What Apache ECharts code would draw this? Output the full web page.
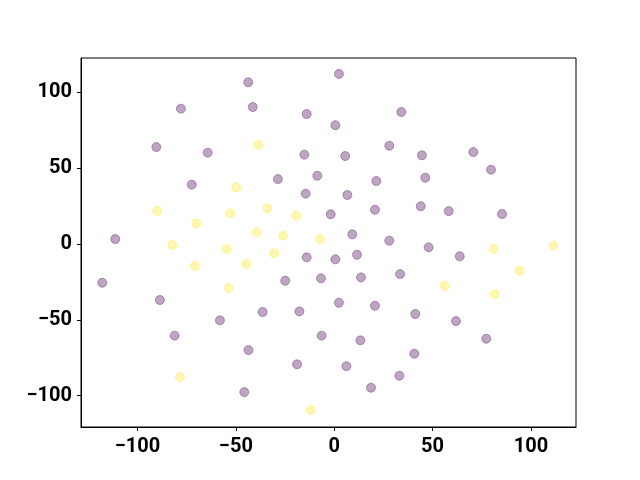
<!DOCTYPE html>
<html>
<head>
<meta charset="utf-8">
<script src="https://cdn.jsdelivr.net/npm/echarts@6/dist/echarts.min.js"></script>
<style>
  html, body { margin: 0; padding: 0; background: #fff; }
  #chart { width: 640px; height: 480px; }
</style>
</head>
<body>
<div id="chart"></div>
<script>
// class 0 (dark purple) points, [x, y]
const purplePoints = [
  [-43.7, 106.6], [2.4, 112.1], [-77.9, 89.2], [-41.4, 90.3], [-14.0, 85.7],
  [34.1, 87.0], [0.6, 78.3], [-90.4, 63.9], [-64.3, 60.2], [-15.2, 58.9],
  [5.6, 58.0], [28.0, 64.8], [44.6, 58.5], [70.7, 60.6], [79.7, 49.0],
  [46.3, 43.7], [-28.6, 42.8], [-8.6, 45.0], [-14.5, 33.2], [6.7, 32.3],
  [21.4, 41.5], [-72.4, 39.1], [-1.8, 19.6], [20.7, 22.6], [44.0, 24.9],
  [58.2, 21.7], [85.3, 19.8], [9.2, 6.4], [28.0, 2.2], [-111.3, 3.3],
  [-117.9, -25.5], [-14.0, -8.8], [0.6, -10.1], [11.6, -7.1], [48.0, -2.2],
  [63.8, -8.1], [-24.9, -24.2], [-6.7, -22.6], [13.6, -22.0], [33.5, -19.8],
  [-88.6, -36.9], [-17.7, -44.4], [-36.4, -44.8], [2.4, -38.7], [20.7, -40.7],
  [-58.1, -50.3], [41.2, -46.1], [61.9, -50.8], [-81.1, -60.4], [-6.4, -60.4],
  [13.3, -63.5], [77.3, -62.4], [-43.6, -69.9], [40.7, -72.3], [-18.9, -79.3],
  [6.2, -80.5], [-45.7, -97.6], [18.7, -94.7], [33.1, -86.8]
];

// class 1 (yellow) points, [x, y]
const yellowPoints = [
  [-38.6, 65.3], [-49.8, 37.4], [-89.9, 21.8], [-52.8, 20.2], [-34.0, 23.5],
  [-19.3, 18.7], [-70.1, 13.6], [-39.4, 7.7], [-26.0, 5.5], [-7.2, 3.3],
  [-82.3, -0.7], [-54.7, -3.3], [-30.5, -6.1], [-44.8, -13.2], [-70.8, -14.5],
  [-53.6, -29.0], [-78.4, -87.7], [-11.9, -109.4], [81.1, -3.3], [111.4, -1.1],
  [94.1, -17.6], [56.2, -27.5], [81.7, -33.2]
];

const xTicks = [-100, -50, 0, 50, 100];
const yTicks = [-100, -50, 0, 50, 100];

// matplotlib-style minus sign
const fmt = v => String(v).replace('-', '\u2212');

const labelStyle = {
  fontFamily: 'Roboto',
  fontWeight: 'bold',
  fontSize: 20,
  color: '#000',
  formatter: fmt
};

const chart = echarts.init(document.getElementById('chart'), null, { renderer: 'canvas' });

chart.setOption({
  animation: false,
  backgroundColor: '#fff',
  grid: {
    left: 81, right: 64, top: 58, bottom: 53,
    show: true,
    borderColor: '#000',
    borderWidth: 1
  },
  xAxis: {
    type: 'value',
    min: -128.7,
    max: 122.9,
    splitLine: { show: false },
    axisLine: { show: true, onZero: false, lineStyle: { color: '#000', width: 1 } },
    axisTick: { show: true, length: 4, customValues: xTicks, lineStyle: { color: '#000' } },
    axisLabel: Object.assign({ margin: 10, customValues: xTicks }, labelStyle)
  },
  yAxis: {
    type: 'value',
    min: -120.6,
    max: 122.6,
    splitLine: { show: false },
    axisLine: { show: true, onZero: false, lineStyle: { color: '#000', width: 1 } },
    axisTick: { show: true, length: 4, customValues: yTicks, lineStyle: { color: '#000' } },
    axisLabel: Object.assign({ margin: 9, customValues: yTicks }, labelStyle)
  },
  series: [
    {
      type: 'scatter',
      data: purplePoints,
      symbolSize: 9,
      itemStyle: { color: '#440154', borderColor: '#440154', borderWidth: 1, opacity: 0.35 }
    },
    {
      type: 'scatter',
      data: yellowPoints,
      symbolSize: 9,
      itemStyle: { color: '#fde725', borderColor: '#fde725', borderWidth: 1, opacity: 0.35 }
    }
  ]
});
</script>
</body>
</html>
